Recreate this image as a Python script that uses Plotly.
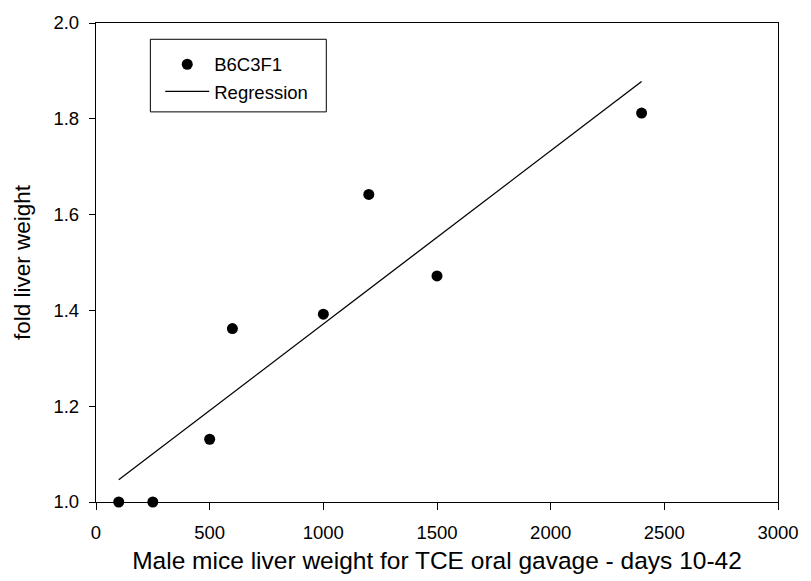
import numpy as np
import plotly.graph_objects as go

# Data
dose = [100, 250, 500, 600, 1000, 1200, 1500, 2400]
fold_liver = [1.0, 1.0, 1.131, 1.362, 1.392, 1.642, 1.472, 1.812]
x_ticks = [0, 500, 1000, 1500, 2000, 2500, 3000]
y_ticks = [1.0, 1.2, 1.4, 1.6, 1.8, 2.0]

slope, intercept = np.polyfit(dose, fold_liver, 1)
reg_x = [min(dose), max(dose)]
reg_y = [intercept + slope * v for v in reg_x]

FONT = "Liberation Sans, Arial, sans-serif"

fig = go.Figure()
fig.add_trace(go.Scatter(
    x=dose, y=fold_liver, mode="markers", name="B6C3F1",
    marker=dict(color="black", size=11, line=dict(width=0)),
    cliponaxis=False,
))
fig.add_trace(go.Scatter(
    x=reg_x, y=reg_y, mode="lines", name="Regression",
    line=dict(color="black", width=1.3),
))

W, H = 811, 581
ml, mr, mt, mb = 96, 25, 17, 79
pw, ph = W - ml - mr, H - mt - mb

def px_x(p):
    return (p - ml) / pw

def px_y(p):
    return 1 - (p - mt) / ph

fig.update_layout(
    width=W, height=H,
    margin=dict(l=ml, r=mr, t=mt, b=mb),
    paper_bgcolor="white", plot_bgcolor="white",
    font=dict(family=FONT, color="black", size=18.5),
    showlegend=True,
    legend=dict(
        x=px_x(161), y=px_y(40), xanchor="left", yanchor="top",
        bgcolor="rgba(0,0,0,0)", borderwidth=0,
        font=dict(size=18.5, family=FONT, color="black"),
        tracegroupgap=0, itemwidth=44,
    ),
    shapes=[dict(
        type="rect", xref="paper", yref="paper",
        x0=px_x(151), x1=px_x(329), y0=px_y(107), y1=px_y(33.5),
        line=dict(color="black", width=1), fillcolor="rgba(0,0,0,0)",
    )],
    xaxis=dict(
        range=[0, 3000], tickvals=x_ticks, ticktext=[str(v) for v in x_ticks],
        showgrid=False, zeroline=False, showline=True, linecolor="black",
        linewidth=1.3, mirror=True, ticks="outside", ticklen=7, tickwidth=1.3,
        tickcolor="black", tickfont=dict(size=18.5), ticklabelstandoff=7,
        title=dict(text="Male mice liver weight for TCE oral gavage - days 10-42",
                   font=dict(size=24.5), standoff=9),
    ),
    yaxis=dict(
        range=[1.0, 2.0], tickvals=y_ticks, ticktext=[f"{v:.1f}" for v in y_ticks],
        showgrid=False, zeroline=False, showline=True, linecolor="black",
        linewidth=1.3, mirror=True, ticks="outside", ticklen=6, tickwidth=1.3,
        tickcolor="black", tickfont=dict(size=18.5), ticklabelstandoff=6,
        title=dict(text="fold liver weight", font=dict(size=22.5), standoff=16),
    ),
)

fig.write_html("out.html", config={"displayModeBar": False},
               post_script="document.body.style.margin='0';")
